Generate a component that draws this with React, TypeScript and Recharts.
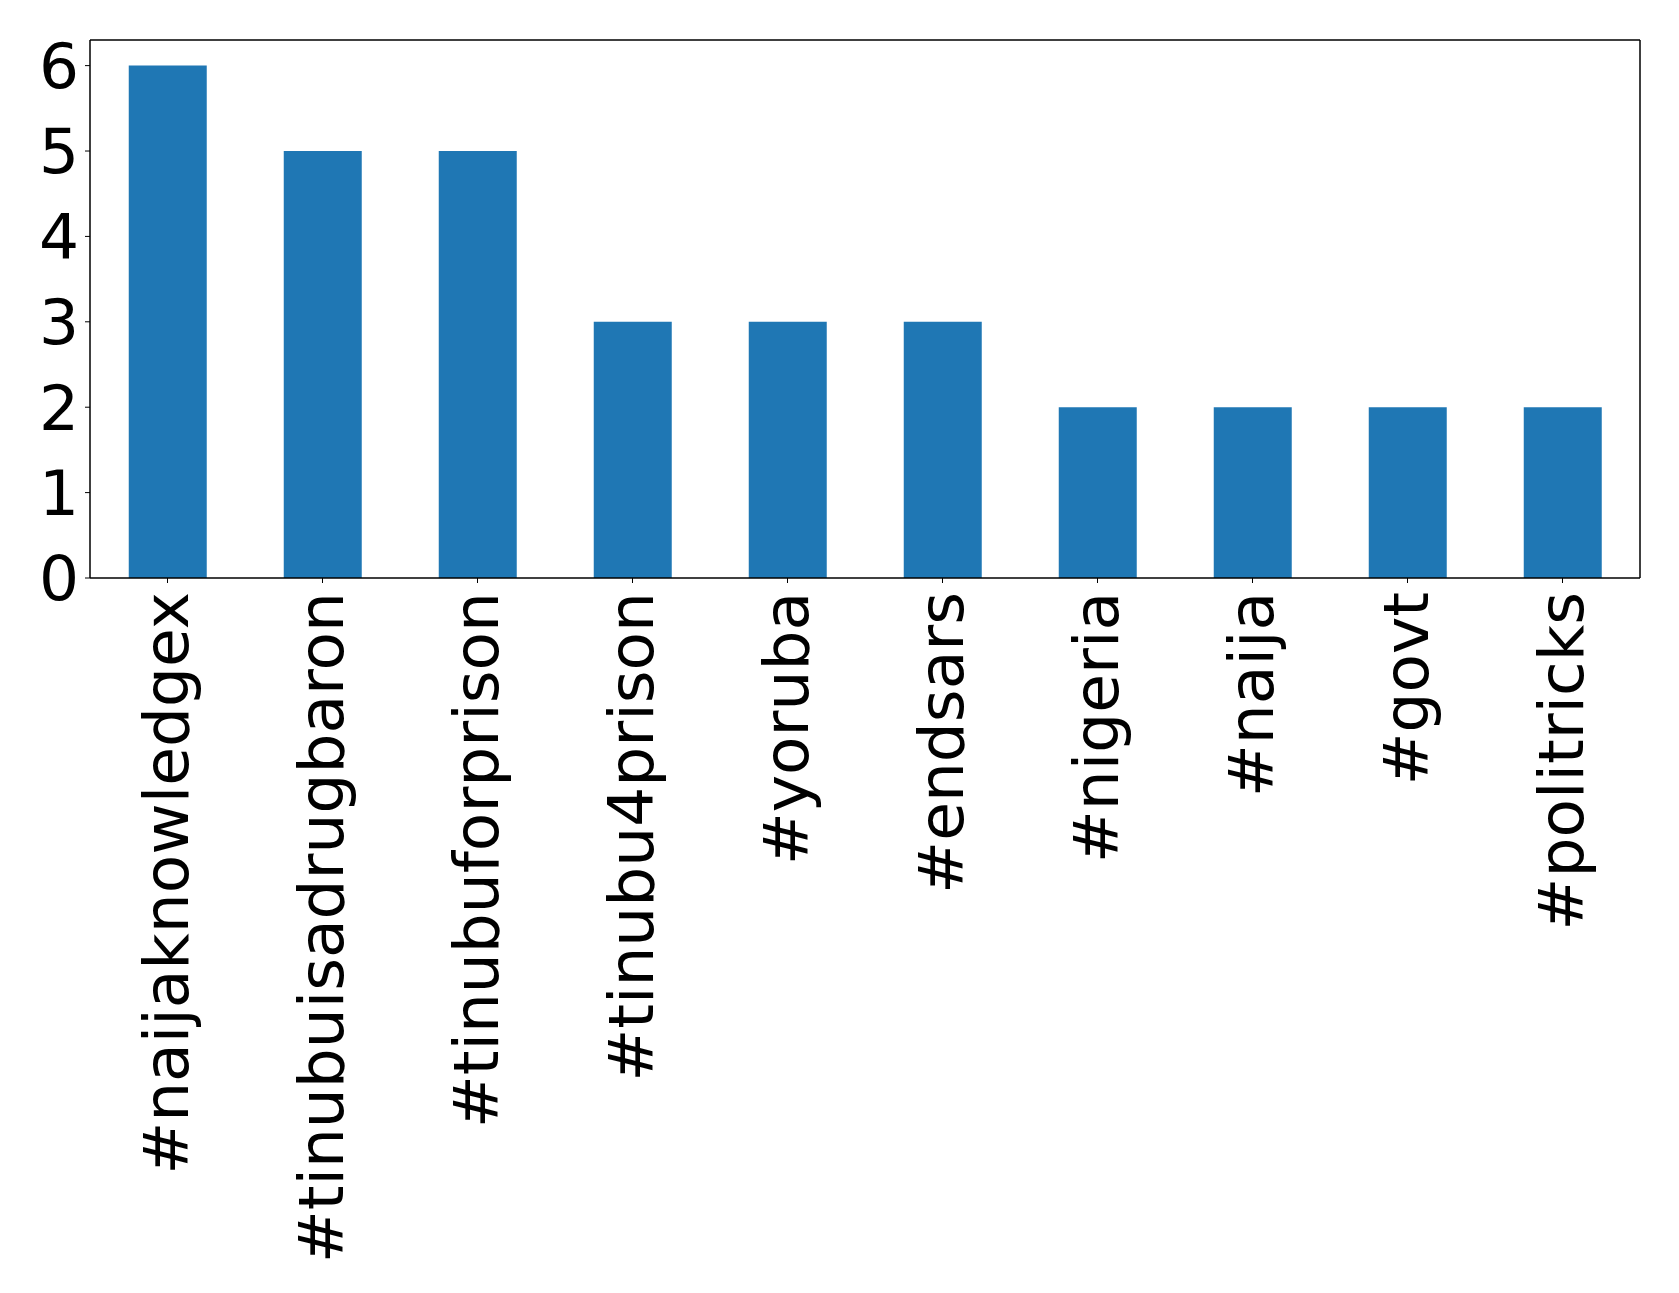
import React from 'react';
import { BarChart, Bar, XAxis, YAxis } from 'recharts';

// hashtag counts
const hashtags = [
  '#naijaknowledgex',
  '#tinubuisadrugbaron',
  '#tinubuforprison',
  '#tinubu4prison',
  '#yoruba',
  '#endsars',
  '#nigeria',
  '#naija',
  '#govt',
  '#politricks',
];
const counts = [6, 5, 5, 3, 3, 3, 2, 2, 2, 2];
const yTicks = [0, 1, 2, 3, 4, 5, 6];

const FONT = '"DejaVu Sans", sans-serif';
const FONT_SIZE = 63;

const data = hashtags.map((tag, i) => ({ tag, count: counts[i] }));

// rotated label, text ends just under the tick
const RotatedTick = (props: any) => {
  const { x, y, payload } = props;
  return (
    <g transform={`translate(${x},${y})`}>
      <text
        transform="rotate(-90)"
        textAnchor="end"
        dy="0.33em"
        fill="#000"
        fontFamily={FONT}
        fontSize={FONT_SIZE}
      >
        {payload.value}
      </text>
    </g>
  );
};

export default function App() {
  return (
    <div style={{ position: 'absolute', left: 0, top: 0, background: '#fff' }}>
      <BarChart
        width={1679}
        height={1293}
        data={data}
        margin={{ top: 39, right: 38, left: 0, bottom: 0 }}
        barCategoryGap="25%"
      >
        <XAxis
          dataKey="tag"
          interval={0}
          height={715}
          tickSize={5}
          tickMargin={9}
          stroke="#000"
          tickLine={{ stroke: '#000' }}
          axisLine={{ stroke: '#000', strokeWidth: 1.5 }}
          tick={<RotatedTick />}
        />
        <XAxis
          xAxisId="top"
          orientation="top"
          dataKey="tag"
          height={1}
          tick={false}
          tickLine={false}
          stroke="#000"
          axisLine={{ stroke: '#000', strokeWidth: 1.5 }}
        />
        <YAxis
          domain={[0, 6.3]}
          ticks={yTicks}
          width={90}
          tickSize={5}
          tickMargin={6}
          stroke="#000"
          axisLine={{ stroke: '#000', strokeWidth: 1.5 }}
          tick={{ fill: '#000', fontFamily: FONT, fontSize: FONT_SIZE }}
        />
        <YAxis
          yAxisId="right"
          orientation="right"
          domain={[0, 6.3]}
          width={1}
          tick={false}
          tickLine={false}
          stroke="#000"
          axisLine={{ stroke: '#000', strokeWidth: 1.5 }}
        />
        <Bar dataKey="count" fill="#1f77b4" isAnimationActive={false} />
      </BarChart>
    </div>
  );
}
